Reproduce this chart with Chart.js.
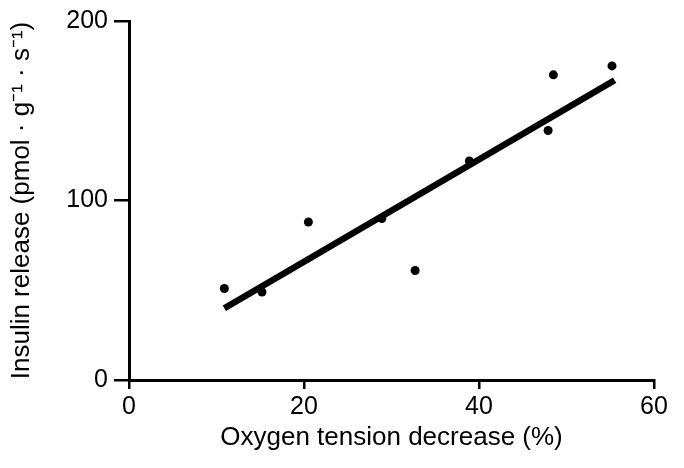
<!DOCTYPE html>
<html>
<head>
<meta charset="utf-8">
<script src="https://cdn.jsdelivr.net/npm/chart.js@4/dist/chart.umd.min.js"></script>
<style>
	html, body { margin: 0; padding: 0; background: #fff; }
	#wrap { width: 684px; height: 468px; }
</style>
</head>
<body>
<div id="wrap"><canvas id="myChart" width="684" height="468"></canvas></div>
<script>
// values
var oxygenDecrease = [10.9, 15.2, 20.5, 28.9, 32.7, 38.9, 47.9, 48.5, 55.2];
var insulinRelease = [51, 49, 88, 90, 61, 122, 139, 170, 175];
// regression line end points
var fitX = [10.9, 55.5];
var fitY = [40, 167];
var xTicks = [0, 20, 40, 60];
var yTicks = [0, 100, 200];

var font = "'Liberation Sans', Arial, Helvetica, sans-serif";

var points = oxygenDecrease.map(function(x, i) { return {x: x, y: insulinRelease[i]}; });
var fitLine = fitX.map(function(x, i) { return {x: x, y: fitY[i]}; });

var border = { display: true, color: '#000', width: 3 };

window.onload = function() {
	var ctx = document.getElementById("myChart").getContext("2d");
	new Chart(ctx, {
		type: 'scatter',
		data: {
			datasets: [
				{
					data: points,
					backgroundColor: '#000',
					borderColor: '#000',
					pointRadius: 4.5,
					pointBorderWidth: 0
				},
				{
					type: 'line',
					data: fitLine,
					borderColor: '#000',
					borderWidth: 6.5,
					borderCapStyle: 'butt',
					pointRadius: 0,
					fill: false
				}
			]
		},
		options: {
			responsive: false,
			animation: false,
			layout: { padding: { top: 15, right: 30, left: 0, bottom: 0 } },
			plugins: { legend: { display: false }, tooltip: { enabled: false } },
			scales: {
				x: {
					type: 'linear', min: 0, max: 60,
					afterFit: function(s) { s.height = 88; },
					afterBuildTicks: function(s) { s.ticks = xTicks.map(function(v) { return {value: v}; }); },
					ticks: { color: '#000', font: { family: font, size: 25 }, padding: 3 },
					grid: { drawOnChartArea: false, tickLength: 9, color: '#000', lineWidth: 2.5 },
					border: border,
					title: { display: true, text: 'Oxygen tension decrease (%)', color: '#000',
						font: { family: font, size: 26 }, padding: { top: 0, bottom: 15 } }
				},
				y: {
					type: 'linear', min: 0, max: 200,
					afterFit: function(s) { s.width = 129; },
					afterBuildTicks: function(s) { s.ticks = yTicks.map(function(v) { return {value: v}; }); },
					ticks: { color: '#000', font: { family: font, size: 25 }, padding: 6 },
					grid: { drawOnChartArea: false, tickLength: 15, color: '#000', lineWidth: 2.5 },
					border: border,
					title: { display: true, text: 'Insulin release (pmol · g⁻¹ · s⁻¹)', color: '#000',
						font: { family: font, size: 26 }, padding: { top: 6, bottom: 0 } }
				}
			}
		}
	});
};
</script>
</body>
</html>
